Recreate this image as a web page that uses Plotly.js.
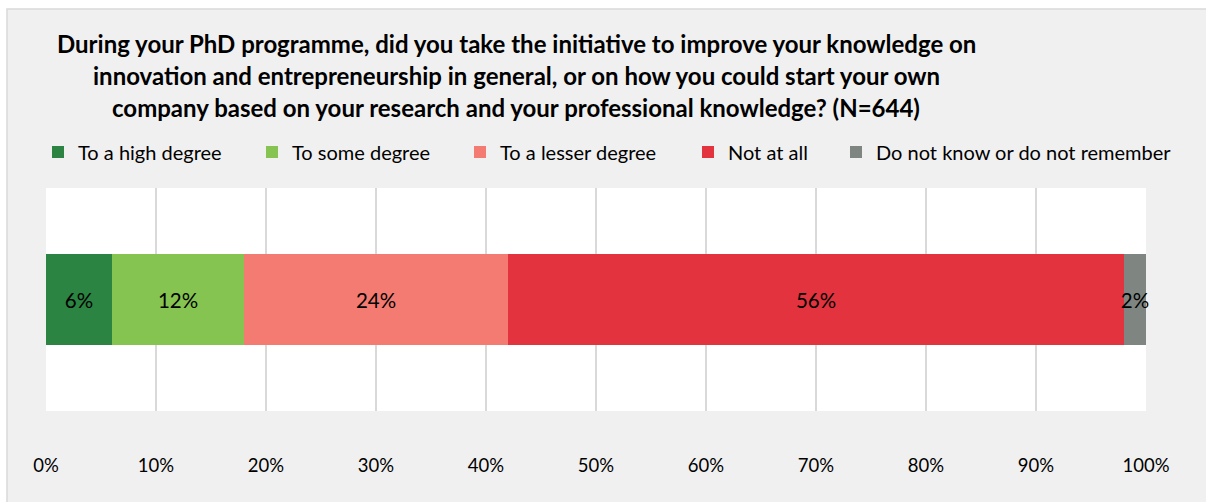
<!DOCTYPE html>
<html>
<head>
<meta charset="utf-8">
<script src="https://cdn.plot.ly/plotly-3.0.1.min.js"></script>
<style>html,body{margin:0;padding:0;background:#fff;}#chart{width:1206px;height:502px;}</style>
</head>
<body>
<div id="chart"></div>
<script>
// ---- data ----
const categories = ["Q"];
const seriesNames = ["To a high degree", "To some degree", "To a lesser degree", "Not at all", "Do not know or do not remember"];
const seriesValues = [6, 12, 24, 56, 2];
const seriesColors = ["#2B8442", "#86C451", "#F37B71", "#E3333E", "#7F8682"];
const tickValues = [0, 10, 20, 30, 40, 50, 60, 70, 80, 90, 100];
const tickLabels = ["0%", "10%", "20%", "30%", "40%", "50%", "60%", "70%", "80%", "90%", "100%"];
const titleLines = [
  "During your PhD programme, did you take the initiative to improve your knowledge on",
  "innovation and entrepreneurship in general, or on how you could start your own",
  "company based on your research and your professional knowledge? (N=644)"
];

// ---- layout helpers (pixel -> paper) ----
const W = 1206, H = 502;
const M = {l: 46, r: 60, t: 188, b: 91};
const PW = W - M.l - M.r, PH = H - M.t - M.b;
const px = p => (p - M.l) / PW;
const py = p => 1 + (M.t - p) / PH;

const FONT = "Lato, 'Liberation Sans', sans-serif";
const legendNames = ["legend", "legend2", "legend3", "legend4", "legend5"];
const legendTextX = [78, 292, 500, 728, 876];

const traces = seriesNames.map((name, i) => ({
  type: "bar",
  orientation: "h",
  name: name,
  y: categories,
  x: [seriesValues[i]],
  marker: {color: seriesColors[i], line: {width: 0}},
  texttemplate: "%{x}%",
  textposition: "inside",
  insidetextanchor: "middle",
  constraintext: "none",
  textangle: 0,
  cliponaxis: false,
  insidetextfont: {family: FONT, size: 20.5, color: "#000"},
  legend: legendNames[i],
  hoverinfo: "name+x"
}));

const layout = {
  width: W, height: H,
  margin: M,
  paper_bgcolor: "#ffffff",
  plot_bgcolor: "#ffffff",
  barmode: "stack",
  bargap: 0.596,
  font: {family: FONT, size: 18, color: "#000"},
  xaxis: {
    range: [0, 100],
    tickvals: tickValues,
    ticktext: tickLabels,
    showgrid: true,
    gridcolor: "#D9D9D9",
    gridwidth: 1.5,
    zeroline: false,
    showline: false,
    ticks: "outside",
    ticklen: 38,
    tickcolor: "rgba(0,0,0,0)",
    tickfont: {family: FONT, size: 18.5, color: "#000"},
    fixedrange: true
  },
  yaxis: {
    showticklabels: false,
    showgrid: false,
    zeroline: false,
    showline: false,
    range: [-0.5, 0.5],
    fixedrange: true
  },
  shapes: [
    {type: "rect", xref: "paper", yref: "paper", x0: px(7), x1: px(1400), y0: py(800), y1: py(9),
     fillcolor: "#F0F0F0", line: {color: "#D9D9D9", width: 1.5}, layer: "below"},
    {type: "rect", xref: "paper", yref: "paper", x0: 0, x1: 1, y0: 0, y1: 1,
     fillcolor: "#ffffff", line: {width: 0}, layer: "below"}
  ],
  annotations: titleLines.map((t, i) => ({
    text: "<b>" + t + "</b>",
    xref: "paper", yref: "paper",
    x: px(516), y: py(43 + i * 32),
    xanchor: "center", yanchor: "middle",
    showarrow: false,
    font: {family: FONT, size: 24, color: "#000"}
  })),
  showlegend: true
};

legendNames.forEach((ln, i) => {
  layout[ln] = {
    orientation: "h",
    x: px(legendTextX[i] - 40),
    xanchor: "left",
    y: py(152),
    yanchor: "middle",
    bgcolor: "rgba(0,0,0,0)",
    borderwidth: 0,
    font: {family: FONT, size: 20, color: "#000"}
  };
});

Plotly.newPlot("chart", traces, layout, {displayModeBar: false, staticPlot: true});
</script>
</body>
</html>
